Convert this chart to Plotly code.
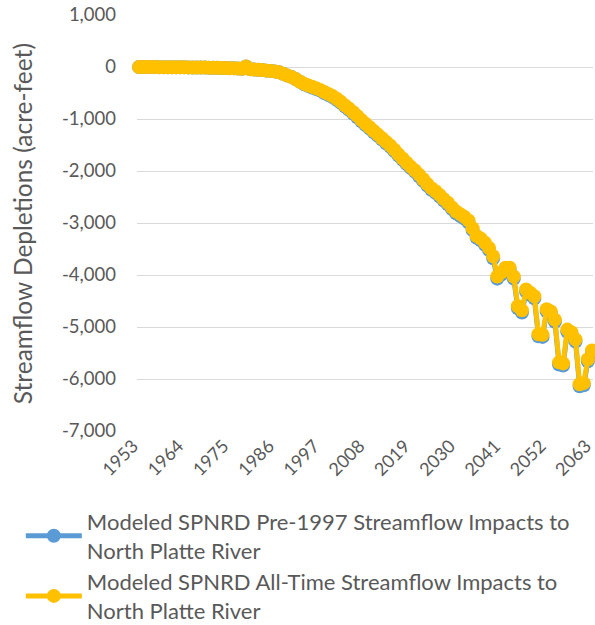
import plotly.graph_objects as go

# Model years
years = list(range(1953, 2064))

# Modeled SPNRD Pre-1997 streamflow impacts (acre-feet)
pre_1997 = [
    0, 0, -1, -2, -2, -3, -3, -4, -5, -5,
    -6, -7, -8, -9, -10, -11, -12, -13, -15, -16,
    -18, -20, -22, -25, -30, -35, 10, -45, -50, -55,
    -60, -70, -75, -85, -100, -130, -165, -190, -230, -280,
    -330, -360, -395, -425, -455, -500, -540, -580, -630, -690,
    -760, -825, -895, -965, -1045, -1115, -1185, -1255, -1325, -1395,
    -1465, -1535, -1615, -1705, -1785, -1865, -1945, -2015, -2100, -2190,
    -2280, -2360, -2420, -2490, -2570, -2640, -2730, -2815, -2865, -2915,
    -2985, -3135, -3285, -3335, -3420, -3520, -3680, -4070, -3990, -3900,
    -3900, -4070, -4640, -4720, -4320, -4380, -4450, -5180, -5190, -4700,
    -4740, -4900, -5720, -5740, -5090, -5140, -5280, -6140, -6120, -5660,
    -5490,
]

# Modeled SPNRD all-time streamflow impacts (acre-feet)
all_time = [
    0, 0, -1, -2, -2, -3, -3, -4, -5, -5,
    -6, -7, -8, -9, -10, -11, -12, -13, -15, -16,
    -18, -20, -22, -25, -30, -35, 10, -45, -50, -55,
    -60, -70, -75, -85, -100, -130, -165, -190, -230, -280,
    -320, -350, -380, -410, -440, -480, -520, -560, -610, -670,
    -740, -800, -870, -940, -1020, -1090, -1160, -1230, -1300, -1370,
    -1440, -1510, -1590, -1680, -1760, -1840, -1920, -1990, -2070, -2160,
    -2250, -2330, -2390, -2460, -2540, -2610, -2700, -2780, -2830, -2880,
    -2950, -3100, -3250, -3300, -3380, -3480, -3640, -4030, -3950, -3860,
    -3860, -4030, -4600, -4680, -4280, -4340, -4410, -5140, -5150, -4660,
    -4700, -4860, -5680, -5700, -5050, -5100, -5240, -6100, -6080, -5620,
    -5450,
]

x_ticks = list(range(1953, 2064, 11))
y_ticks = list(range(-7000, 1001, 1000))
y_tick_text = [f"{v:,}" for v in y_ticks]  # plain hyphen minus

FONT = "Lato"
GREY = "#595959"

fig = go.Figure()
fig.add_trace(go.Scatter(
    x=years, y=pre_1997, mode="lines+markers",
    name="Modeled SPNRD Pre-1997 Streamflow Impacts to<br>North Platte River",
    line=dict(color="#5B9BD5", width=5),
    marker=dict(color="#5B9BD5", size=14),
    cliponaxis=False,
))
fig.add_trace(go.Scatter(
    x=years, y=all_time, mode="lines+markers",
    name="Modeled SPNRD All-Time Streamflow Impacts to<br>North Platte River",
    line=dict(color="#FFC000", width=5),
    marker=dict(color="#FFC000", size=14),
    cliponaxis=False,
))

fig.update_layout(
    width=595, height=625,
    margin=dict(l=137, r=2, t=15, b=194, autoexpand=False),
    paper_bgcolor="white", plot_bgcolor="white",
    font=dict(family=FONT, color=GREY, size=18),
    showlegend=True,
    legend=dict(
        xref="container", yref="container",
        x=0.035, y=0.199, xanchor="left", yanchor="top",
        font=dict(family=FONT, size=22, color=GREY),
        itemwidth=56, tracegroupgap=10,
        bgcolor="rgba(0,0,0,0)",
    ),
    annotations=[dict(
        text="Streamflow Depletions (acre-feet)",
        xref="paper", yref="paper", x=-115 / 456, y=0.497,
        xanchor="center", yanchor="middle", textangle=-90,
        showarrow=False, font=dict(family=FONT, size=24.5, color=GREY),
    )],
)
fig.update_xaxes(
    range=[1952.5, 2063.25],
    tickmode="array", tickvals=x_ticks, ticktext=[str(v) for v in x_ticks],
    tickangle=-45, showgrid=False, zeroline=False, showline=False,
    ticks="", tickfont=dict(size=18, color=GREY), automargin=False,
    ticklabeloverflow="allow", ticklabelshift=-6,
)
fig.update_yaxes(
    range=[-7000, 1000],
    tickmode="array", tickvals=y_ticks, ticktext=y_tick_text,
    showgrid=True, gridcolor="#D9D9D9", gridwidth=1,
    zeroline=False, showline=False, ticks="",
    tickfont=dict(size=18.5, color=GREY), ticklabelstandoff=20,
    automargin=False,
)

fig.write_html("out.html")
